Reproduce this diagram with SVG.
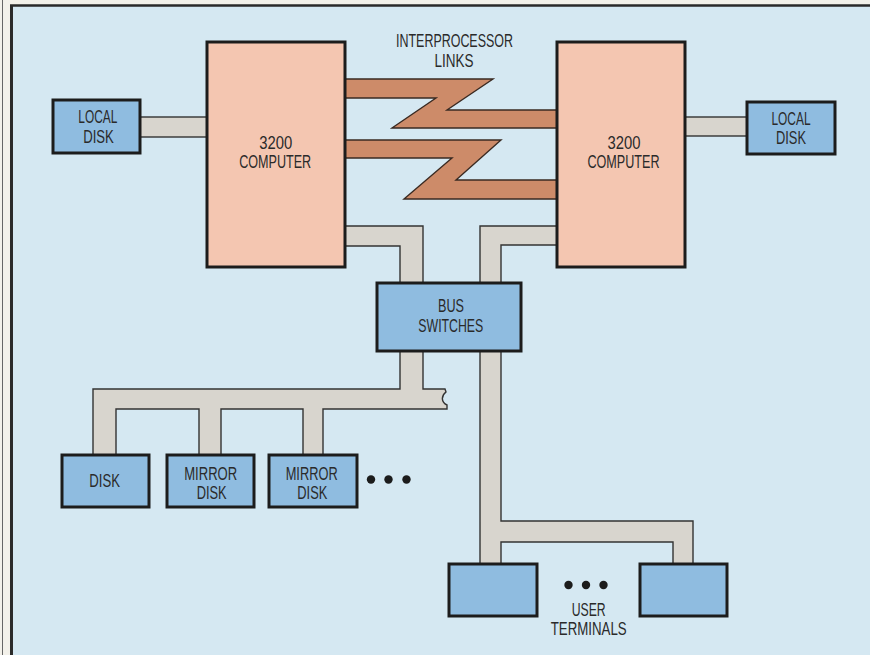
<svg xmlns="http://www.w3.org/2000/svg" width="870" height="655" viewBox="0 0 870 655">
<style>
.bg{fill:#d5e8f2}
.band{fill:#d8d5ce;stroke:#333;stroke-width:1.4;stroke-linejoin:miter}
.link{fill:#cd8b69;stroke:#3a2a22;stroke-width:1.4;stroke-linejoin:miter}
.comp{fill:#f4c6b1;stroke:#1c1c1c;stroke-width:3}
.blue{fill:#8fbce0;stroke:#1c1c1c;stroke-width:3}
.dot{fill:#1c1c1c}
text{font-family:"Liberation Sans",Arial,sans-serif;font-size:18px;fill:#2a2a2a;text-anchor:middle}
</style>
<rect x="0" y="0" width="870" height="655" fill="#f3f1ea"/>
<rect class="bg" x="12" y="6" width="858" height="649"/>
<line x1="2.5" y1="0" x2="2.5" y2="655" stroke="#666" stroke-width="1"/>
<line x1="11.5" y1="5" x2="11.5" y2="655" stroke="#2a2a2a" stroke-width="3"/>
<line x1="10" y1="5.5" x2="870" y2="5.5" stroke="#2a2a2a" stroke-width="2.5"/>

<g id="connectors">
<rect class="band" x="140" y="117" width="67" height="20"/>
<rect class="band" x="685" y="117" width="62" height="19"/>
<path class="band" d="M345,226 H423 V283 H400 V246 H345 Z"/>
<path class="band" d="M557,226 H480 V283 H501 V245 H557 Z"/>
<path class="band" d="M400,351 V389 H93 V455 H116 V409 H199 V455 H221 V409 H303 V455 H323 V409 H447 L447,405 C441,402 441,396 446,392 L445,389 H423 V351 Z"/>
<path class="band" d="M480,351 V564 H501 V542 H673 V564 H693 V521 H501 V351 Z"/>
<polygon class="link" points="345,79 493,79 447,110 557,110 557,128 392,128 436,98 345,98"/>
<polygon class="link" points="345,140 501,140 456,180 557,180 557,199 404,199 452,158 345,158"/>
</g>

<g id="label-links">
<text x="454.5" y="47" textLength="117" lengthAdjust="spacingAndGlyphs">INTERPROCESSOR</text>
<text x="454" y="66.5" textLength="39" lengthAdjust="spacingAndGlyphs">LINKS</text>
</g>

<g id="local-disk-left">
<rect class="blue" x="53" y="100" width="87" height="53"/>
<text x="97.8" y="123" textLength="39" lengthAdjust="spacingAndGlyphs">LOCAL</text>
<text x="98.5" y="142.7" textLength="30.7" lengthAdjust="spacingAndGlyphs">DISK</text>
</g>

<g id="computer-left">
<rect class="comp" x="207" y="42" width="138" height="225"/>
<text x="275.7" y="149" textLength="33" lengthAdjust="spacingAndGlyphs">3200</text>
<text x="275.2" y="168.3" textLength="72" lengthAdjust="spacingAndGlyphs">COMPUTER</text>
</g>

<g id="computer-right">
<rect class="comp" x="557" y="42" width="128" height="225"/>
<text x="624" y="149" textLength="33" lengthAdjust="spacingAndGlyphs">3200</text>
<text x="623.5" y="168.3" textLength="72" lengthAdjust="spacingAndGlyphs">COMPUTER</text>
</g>

<g id="local-disk-right">
<rect class="blue" x="747" y="102" width="88" height="52"/>
<text x="791" y="125" textLength="39" lengthAdjust="spacingAndGlyphs">LOCAL</text>
<text x="791" y="144" textLength="30" lengthAdjust="spacingAndGlyphs">DISK</text>
</g>

<g id="bus-switches">
<rect class="blue" x="377" y="283" width="144" height="68"/>
<text x="451" y="312.3" textLength="26" lengthAdjust="spacingAndGlyphs">BUS</text>
<text x="450.8" y="332.3" textLength="65" lengthAdjust="spacingAndGlyphs">SWITCHES</text>
</g>

<g id="disk">
<rect class="blue" x="62" y="455" width="87" height="52"/>
<text x="104.7" y="487.3" textLength="30.7" lengthAdjust="spacingAndGlyphs">DISK</text>
</g>

<g id="mirror-disk-1">
<rect class="blue" x="167" y="455" width="87" height="52"/>
<text x="210.7" y="480" textLength="53" lengthAdjust="spacingAndGlyphs">MIRROR</text>
<text x="211.7" y="499" textLength="30" lengthAdjust="spacingAndGlyphs">DISK</text>
</g>

<g id="mirror-disk-2">
<rect class="blue" x="269" y="455" width="88" height="52"/>
<text x="311.7" y="480" textLength="52" lengthAdjust="spacingAndGlyphs">MIRROR</text>
<text x="312.3" y="499" textLength="30" lengthAdjust="spacingAndGlyphs">DISK</text>
</g>

<g id="disk-ellipsis">
<circle class="dot" cx="371" cy="479.5" r="4.2"/>
<circle class="dot" cx="388.5" cy="479.5" r="4.2"/>
<circle class="dot" cx="406.5" cy="479.5" r="4.2"/>
</g>

<g id="terminal-1">
<rect class="blue" x="449" y="564" width="88" height="52"/>
</g>

<g id="terminal-2">
<rect class="blue" x="640" y="564" width="87" height="52"/>
</g>

<g id="user-terminals-label">
<circle class="dot" cx="568.5" cy="585" r="4.2"/>
<circle class="dot" cx="586" cy="585" r="4.2"/>
<circle class="dot" cx="603.5" cy="585" r="4.2"/>
<text x="588.7" y="616" textLength="34" lengthAdjust="spacingAndGlyphs">USER</text>
<text x="588.7" y="635" textLength="76" lengthAdjust="spacingAndGlyphs">TERMINALS</text>
</g>
</svg>
